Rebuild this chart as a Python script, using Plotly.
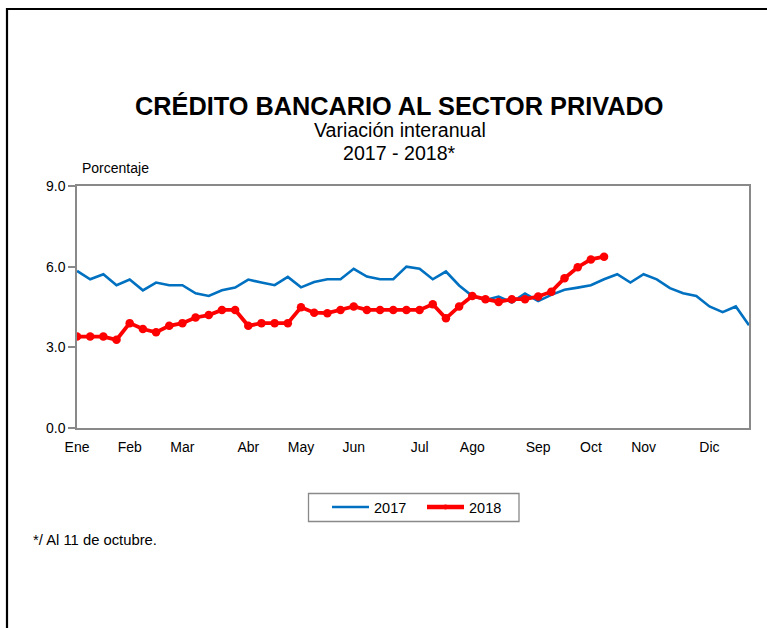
import plotly.graph_objects as go

weeks = list(range(52))
month_labels = ["Ene", "Feb", "Mar", "Abr", "May", "Jun", "Jul", "Ago", "Sep", "Oct", "Nov", "Dic"]
month_week_idx = [0, 4, 8, 13, 17, 21, 26, 30, 35, 39, 43, 48]

credito_2017 = [5.84, 5.53, 5.72, 5.31, 5.52, 5.12, 5.41, 5.31, 5.31, 5.01,
                4.91, 5.12, 5.22, 5.52, 5.41, 5.31, 5.62, 5.23, 5.43, 5.53,
                5.53, 5.92, 5.63, 5.53, 5.53, 6.00, 5.92, 5.53, 5.82, 5.30,
                4.91, 4.76, 4.89, 4.67, 5.00, 4.72, 4.95, 5.14, 5.22, 5.31,
                5.53, 5.72, 5.41, 5.72, 5.53, 5.20, 5.01, 4.91, 4.52, 4.31,
                4.52, 3.82]

credito_2018 = [3.40, 3.40, 3.40, 3.28, 3.90, 3.68, 3.56, 3.80, 3.90, 4.11,
                4.20, 4.39, 4.39, 3.80, 3.90, 3.90, 3.90, 4.49, 4.29, 4.27,
                4.39, 4.52, 4.39, 4.39, 4.39, 4.39, 4.39, 4.60, 4.08, 4.52,
                4.91, 4.79, 4.69, 4.79, 4.79, 4.89, 5.07, 5.57, 5.98, 6.27,
                6.37]

y_ticks = [0, 3, 6, 9]

BLUE = "#0070C0"
RED = "#FF0000"
GRAY = "#898989"
FONT = "Arial, 'Liberation Sans', sans-serif"

fig = go.Figure()
fig.add_trace(go.Scatter(x=weeks, y=credito_2017, mode="lines",
                         line=dict(color=BLUE, width=2.6), showlegend=False,
                         hoverinfo="skip"))
fig.add_trace(go.Scatter(x=weeks[:len(credito_2018)], y=credito_2018, mode="lines+markers",
                         line=dict(color=RED, width=3.8),
                         marker=dict(color=RED, size=8.5), showlegend=False,
                         hoverinfo="skip"))
# legend entries
fig.add_trace(go.Scatter(x=[None], y=[None], mode="lines", name="2017",
                         line=dict(color=BLUE, width=2.6)))
fig.add_trace(go.Scatter(x=[None], y=[None], mode="lines+markers", name="2018",
                         line=dict(color=RED, width=4.5), marker=dict(color=RED, size=5)))

PL, PT, PR, PB = 77, 186, 749, 428
W, H = 767, 628
pw, ph = PR - PL, PB - PT

def px(x):
    return (x - PL) / pw

def py(y):
    return (PB - y) / ph

annotations = [
    dict(text="<b>CRÉDITO BANCARIO AL SECTOR PRIVADO</b>", x=px(398.5), y=py(106),
         font=dict(size=25.3, color="black", family=FONT)),
    dict(text="Variación interanual", x=px(399.5), y=py(130),
         font=dict(size=19.6, color="black", family=FONT)),
    dict(text="2017 - 2018*", x=px(399), y=py(153),
         font=dict(size=19.6, color="black", family=FONT)),
    dict(text="Porcentaje", x=px(80), y=py(168), xanchor="left",
         font=dict(size=14, color="black", family=FONT)),
    dict(text="*/ Al 11 de octubre.", x=px(31), y=py(540), xanchor="left",
         font=dict(size=14.8, color="black", family=FONT)),
]
for a in annotations:
    a.update(xref="paper", yref="paper", showarrow=False)
    a.setdefault("xanchor", "center")
    a["yanchor"] = "middle"

fig.update_layout(
    width=W, height=H,
    margin=dict(l=PL, r=W - PR, t=PT, b=H - PB, pad=0),
    paper_bgcolor="white", plot_bgcolor="white",
    font=dict(family=FONT, size=14, color="black"),
    showlegend=True,
    legend=dict(orientation="h", x=px(327), y=py(491), xanchor="left", yanchor="top",
                borderwidth=0, bgcolor="rgba(0,0,0,0)",
                font=dict(size=14.5, color="black", family=FONT),
                itemwidth=37, entrywidth=43, tracegroupgap=0),
    annotations=annotations,
    shapes=[
        dict(type="rect", xref="paper", yref="paper",
             x0=px(7), y0=py(700), x1=px(820), y1=py(9),
             line=dict(color="black", width=2.2), layer="above"),
        dict(type="rect", xref="paper", yref="paper",
             x0=px(308.5), y0=py(521.5), x1=px(519), y1=py(493.5),
             line=dict(color=GRAY, width=1.3), fillcolor="rgba(0,0,0,0)", layer="below"),
    ],
)

fig.update_xaxes(range=[0, 51], tickmode="array", tickvals=month_week_idx,
                 ticktext=month_labels, showgrid=False, zeroline=False,
                 showline=True, linecolor=GRAY, linewidth=1.5, mirror=True,
                 ticks="", ticklabelstandoff=5,
                 tickfont=dict(size=14, family=FONT, color="black"))
fig.update_yaxes(range=[0, 9], tickmode="array", tickvals=y_ticks, tickformat=".1f",
                 showgrid=False, zeroline=False, showline=True, linecolor=GRAY,
                 linewidth=1.5, mirror=True, ticks="outside", ticklen=7,
                 tickcolor=GRAY, tickwidth=1.5,
                 tickfont=dict(size=14, family=FONT, color="black"))

fig.write_html("out.html", config={"displayModeBar": False},
               post_script="document.body.style.margin='0px';")
